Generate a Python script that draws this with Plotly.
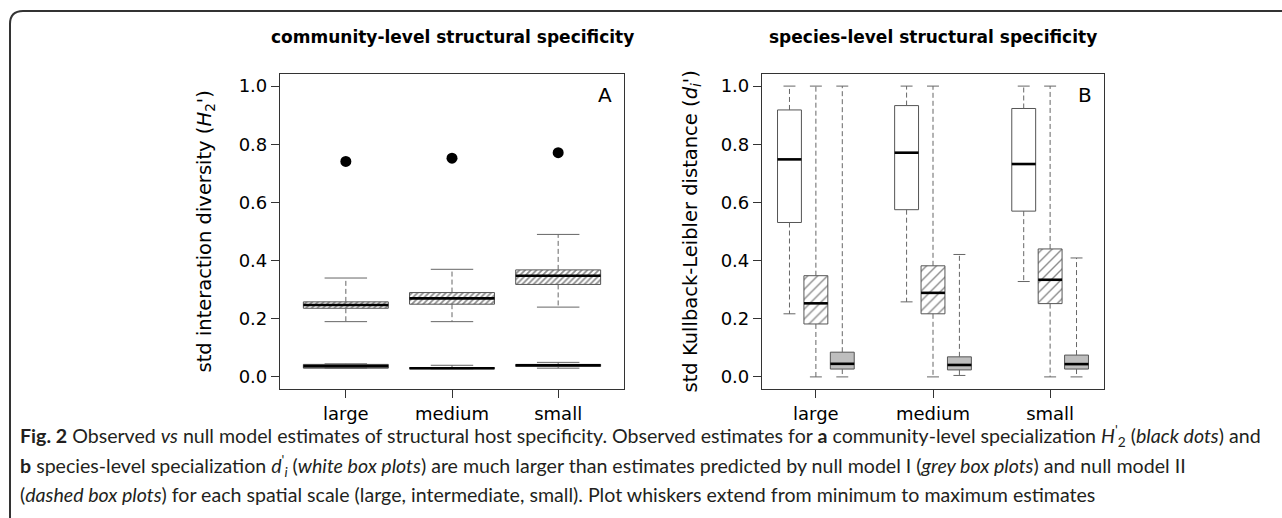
import plotly.graph_objects as go

W, H = 1282, 518

# ---------------- data ----------------
scales = ["large", "medium", "small"]
y_ticks = [0.0, 0.2, 0.4, 0.6, 0.8, 1.0]

# Panel A: community-level (H2')
obs_H2 = [0.741, 0.752, 0.771]                 # observed (black dots)
a_n2_min = [0.19, 0.19, 0.24]                  # null model II (dashed / hatched)
a_n2_q1 = [0.236, 0.250, 0.318]
a_n2_med = [0.247, 0.270, 0.348]
a_n2_q3 = [0.258, 0.290, 0.368]
a_n2_max = [0.34, 0.37, 0.49]
a_n1_min = [0.030, 0.028, 0.030]               # null model I (grey)
a_n1_q1 = [0.030, 0.028, 0.036]
a_n1_med = [0.037, 0.030, 0.040]
a_n1_q3 = [0.043, 0.032, 0.043]
a_n1_max = [0.045, 0.040, 0.050]

# Panel B: species-level (d_i')
b_obs_min = [0.217, 0.258, 0.328]              # observed (white)
b_obs_q1 = [0.531, 0.575, 0.570]
b_obs_med = [0.748, 0.771, 0.732]
b_obs_q3 = [0.918, 0.933, 0.923]
b_obs_max = [1.0, 1.0, 1.0]
b_n2_min = [0.0, 0.0, 0.0]                     # null model II (hatched)
b_n2_q1 = [0.182, 0.217, 0.252]
b_n2_med = [0.253, 0.289, 0.334]
b_n2_q3 = [0.348, 0.382, 0.440]
b_n2_max = [1.0, 1.0, 1.0]
b_n1_min = [0.0, 0.005, 0.0]                   # null model I (grey)
b_n1_q1 = [0.027, 0.024, 0.027]
b_n1_med = [0.045, 0.041, 0.044]
b_n1_q3 = [0.085, 0.069, 0.075]
b_n1_max = [1.0, 0.421, 0.409]

# ---------------- styling ----------------
PLOT_FONT = "DejaVu Sans"
CAP_FONT = "Lato"
BORDER = "#555555"
WHISK = "#666666"
GREY = "#BEBEBE"

fig = go.Figure()


def add_boxes(pos, mn, q1, med, q3, mx, width, cap, fill, pattern, xa, ya):
    marker = dict(color=fill, line=dict(color=BORDER, width=1))
    if pattern is not None:
        marker["pattern"] = pattern
    fig.add_trace(go.Bar(x=pos, base=q1, y=[b - a for a, b in zip(q1, q3)],
                         width=width, marker=marker, xaxis=xa, yaxis=ya,
                         showlegend=False, hoverinfo="skip"))
    wx, wy, cx, cy, mxs, mys = [], [], [], [], [], []
    for p, a, b, c, d, e in zip(pos, mn, q1, med, q3, mx):
        wx += [p, p, None, p, p, None]
        wy += [d, e, None, b, a, None]
        cx += [p - cap / 2, p + cap / 2, None, p - cap / 2, p + cap / 2, None]
        cy += [e, e, None, a, a, None]
        mxs += [p - width / 2, p + width / 2, None]
        mys += [c, c, None]
    fig.add_trace(go.Scatter(x=wx, y=wy, mode="lines", xaxis=xa, yaxis=ya,
                             line=dict(color=WHISK, width=1, dash="5px,3px"),
                             showlegend=False, hoverinfo="skip"))
    fig.add_trace(go.Scatter(x=cx, y=cy, mode="lines", xaxis=xa, yaxis=ya,
                             line=dict(color=WHISK, width=1),
                             showlegend=False, hoverinfo="skip"))
    fig.add_trace(go.Scatter(x=mxs, y=mys, mode="lines", xaxis=xa, yaxis=ya,
                             line=dict(color="black", width=2.6),
                             showlegend=False, hoverinfo="skip"))


pos_a = [1, 2, 3]
hatch_a = dict(shape="/", size=4, solidity=0.45, fgcolor="#1a1a1a", bgcolor="white")
add_boxes(pos_a, a_n1_min, a_n1_q1, a_n1_med, a_n1_q3, a_n1_max, 0.8, 0.4,
          GREY, None, "x", "y")
add_boxes(pos_a, a_n2_min, a_n2_q1, a_n2_med, a_n2_q3, a_n2_max, 0.8, 0.4,
          "white", hatch_a, "x", "y")
fig.add_trace(go.Scatter(x=pos_a, y=obs_H2, mode="markers", xaxis="x", yaxis="y",
                         marker=dict(color="black", size=11),
                         showlegend=False, hoverinfo="skip"))

off = 0.2255
bw = 0.204
pos_white = [p - off for p in pos_a]
pos_hatch = list(pos_a)
pos_grey = [p + off for p in pos_a]
hatch_b = dict(shape="/", size=7, solidity=0.2, fgcolor="#1a1a1a", bgcolor="white")
add_boxes(pos_white, b_obs_min, b_obs_q1, b_obs_med, b_obs_q3, b_obs_max, bw, bw / 2,
          "white", None, "x2", "y2")
add_boxes(pos_hatch, b_n2_min, b_n2_q1, b_n2_med, b_n2_q3, b_n2_max, bw, bw / 2,
          "white", hatch_b, "x2", "y2")
add_boxes(pos_grey, b_n1_min, b_n1_q1, b_n1_med, b_n1_q3, b_n1_max, bw, bw / 2,
          GREY, None, "x2", "y2")

# ---------------- axes ----------------
plot_top, plot_bot = 74, 389
ydom = [(H - plot_bot) / H, (H - plot_top) / H]
axis_common = dict(showline=True, mirror=True, linecolor="#333333", linewidth=1.2,
                   ticks="outside", ticklen=8, tickwidth=1.2, tickcolor="#333333",
                   showgrid=False, zeroline=False,
                   tickfont=dict(family=PLOT_FONT, size=18, color="black"))
yax = dict(axis_common, range=[-0.0416, 1.0416], domain=ydom,
           tickvals=y_ticks, ticktext=[f"{v:.1f}" for v in y_ticks])
fig.update_layout(
    xaxis=dict(axis_common, domain=[280 / W, 624 / W], range=[0.38, 3.62],
               tickvals=pos_a, ticktext=scales, anchor="y"),
    yaxis=dict(yax, anchor="x"),
    xaxis2=dict(axis_common, domain=[762 / W, 1104 / W], range=[0.54, 3.46],
                tickvals=pos_hatch, ticktext=scales, anchor="y2"),
    yaxis2=dict(yax, anchor="x2"),
    barmode="overlay",
    width=W, height=H,
    margin=dict(l=0, r=0, t=0, b=0),
    paper_bgcolor="white", plot_bgcolor="white",
    showlegend=False,
)

ann = []
ymid = (ydom[0] + ydom[1]) / 2
for txt, cx in [("<b>community-level structural specificity</b>", 452),
                ("<b>species-level structural specificity</b>", 933)]:
    ann.append(dict(text=txt, x=cx / W, y=1 - 37 / H, xref="paper", yref="paper",
                    xanchor="center", yanchor="middle", showarrow=False,
                    font=dict(family=PLOT_FONT, size=17, color="black")))
for txt, cx in [("std interaction diversity (<i>H</i><sub>2</sub>')", 205),
                ("std Kullback-Leibler distance (<i>d<sub>i</sub></i>')", 691)]:
    ann.append(dict(text=txt, x=cx / W, y=ymid, xref="paper", yref="paper",
                    xanchor="center", yanchor="middle", showarrow=False, textangle=-90,
                    font=dict(family=PLOT_FONT, size=19.5, color="black")))
for txt, xr, yr in [("A", "x domain", "y domain"), ("B", "x2 domain", "y2 domain")]:
    ann.append(dict(text=txt, x=1, y=1, xref=xr, yref=yr, xanchor="right",
                    yanchor="top", xshift=-10, yshift=-7, showarrow=False,
                    font=dict(family=PLOT_FONT, size=20, color="black")))

caption = [
    "<b>Fig. 2</b> Observed <i>vs</i> null model estimates of structural host specificity. "
    "Observed estimates for <b>a</b> community-level specialization <i>H</i><sup>'</sup><sub>2</sub> "
    "(<i>black dots</i>) and",
    "<b>b</b> species-level specialization <i>d</i><sup>'</sup><sub><i>i</i></sub> (<i>white box plots</i>) "
    "are much larger than estimates predicted by null model I (<i>grey box plots</i>) and null model II",
    "(<i>dashed box plots</i>) for each spatial scale (large, intermediate, small). "
    "Plot whiskers extend from minimum to maximum estimates",
]
cap_y = [435, 465, 494]
for t, yy in zip(caption, cap_y):
    ann.append(dict(text=t, x=18 / W, y=1 - yy / H, xref="paper", yref="paper",
                    xanchor="left", yanchor="middle", showarrow=False, align="left",
                    font=dict(family=CAP_FONT, size=19.6, color="#231F20")))
fig.update_layout(annotations=ann)

# outer frame with rounded top-left corner
fx, fy, r = 10 / W, 1 - 11 / H, 13
frame = (f"M {fx},0 L {fx},{1 - (11 + r) / H} "
         f"Q {fx},{fy} {(10 + r) / W},{fy} L 1,{fy}")
fig.add_shape(type="path", path=frame, xref="paper", yref="paper",
              line=dict(color="#333333", width=2))

fig.write_html("out.html", config={"displayModeBar": False},
               post_script="document.body.style.margin='0';document.body.style.overflow='hidden';")
